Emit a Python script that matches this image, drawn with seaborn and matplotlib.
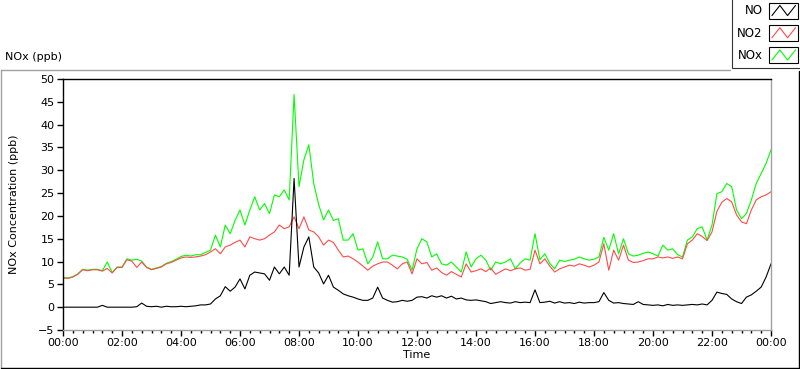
import numpy as np
import pandas as pd
import matplotlib
matplotlib.use("Agg")
import matplotlib.pyplot as plt
import matplotlib.dates as mdates
from matplotlib.legend_handler import HandlerBase
from matplotlib.lines import Line2D
from matplotlib.patches import Rectangle
import seaborn as sns

# readings every 10 minutes, 00:00 -> 24:00 (ppb)
no_ppb = [
    0.0, 0.0, 0.0, 0.0, 0.0, 0.0,
    0.0, 0.0, 0.4, 0.0, 0.0, 0.0,
    0.0, 0.0, 0.0, 0.1, 0.9, 0.2,
    0.1, 0.2, 0.0, 0.2, 0.1, 0.1,
    0.2, 0.1, 0.2, 0.3, 0.5, 0.5,
    0.7, 1.8, 2.5, 4.5, 3.5, 4.4,
    6.2, 4.0, 7.0, 7.7, 7.5, 7.3,
    5.9, 8.8, 7.3, 8.8, 7.0, 28.2,
    8.8, 13.2, 15.4, 8.8, 7.5, 5.1,
    7.0, 4.4, 3.7, 2.9, 2.5, 2.2,
    1.8, 1.5, 1.5, 2.0, 4.4, 2.0,
    1.5, 1.1, 1.2, 1.5, 1.3, 1.5,
    2.2, 2.3, 2.0, 2.5, 2.2, 2.5,
    2.0, 2.4, 1.8, 2.0, 1.6, 1.5,
    1.6, 1.4, 1.2, 0.8, 1.0, 1.2,
    1.0, 0.9, 1.2, 1.0, 1.1, 1.0,
    3.8, 1.0, 1.1, 1.3, 0.9, 1.2,
    0.9, 1.0, 0.8, 1.1, 0.9, 1.0,
    1.0, 1.2, 3.2, 1.5, 0.9, 1.0,
    0.8, 0.7, 0.6, 1.2, 0.6, 0.5,
    0.4, 0.5, 0.3, 0.6, 0.4, 0.5,
    0.4, 0.5, 0.6, 0.5, 0.7, 0.5,
    1.5, 3.3, 3.0, 2.8, 1.8, 1.2,
    0.8, 2.2, 2.7, 3.5, 4.4, 6.6,
    9.5,
]
no2_ppb = [
    6.4, 6.3, 6.6, 7.2, 8.2, 8.0,
    8.2, 8.2, 7.9, 8.5, 7.5, 8.7,
    8.7, 10.4, 10.1, 8.7, 9.9, 8.7,
    8.2, 8.5, 8.8, 9.5, 9.8, 10.3,
    10.8, 11.0, 10.9, 11.0, 11.2, 11.5,
    12.1, 12.8, 11.7, 13.2, 13.6, 14.2,
    14.7, 13.2, 15.4, 15.0, 14.7, 15.0,
    15.8, 16.5, 18.0, 17.2, 17.6, 19.8,
    17.2, 19.8, 16.9, 16.5, 15.4, 13.6,
    14.7, 14.2, 12.5, 11.0, 11.2, 10.6,
    9.9, 9.0, 8.1, 9.0, 9.5, 9.9,
    9.9, 9.2, 8.4, 9.5, 9.9, 7.3,
    10.6, 9.5, 9.8, 8.1, 8.6, 7.6,
    7.0, 7.8, 7.2, 6.6, 9.5, 7.7,
    8.0, 8.4, 7.8, 8.6, 7.2, 7.8,
    8.4, 8.0, 8.4, 8.6, 8.1, 8.3,
    12.5, 9.5, 10.6, 9.0, 7.7, 8.4,
    8.8, 9.2, 9.0, 9.5, 9.2, 8.8,
    9.2, 9.9, 13.9, 8.1, 12.5, 10.3,
    13.6, 10.3, 9.8, 9.9, 10.2, 10.6,
    10.6, 11.0, 10.8, 11.0, 10.7, 11.0,
    10.6, 13.9, 14.7, 16.1, 15.5, 14.6,
    16.5, 21.0, 23.0, 23.8, 23.1, 20.2,
    18.7, 18.3, 21.3, 23.5, 24.2, 24.6,
    25.3,
]
nox_ppb = [
    6.5, 6.4, 6.7, 7.3, 8.3, 8.1,
    8.3, 8.3, 8.0, 9.9, 7.6, 8.8,
    8.8, 10.6, 10.3, 10.5, 10.1, 8.8,
    8.3, 8.6, 8.9, 9.6, 10.0, 10.5,
    11.1, 11.4, 11.2, 11.5, 11.5, 12.0,
    12.5, 15.8, 13.2, 18.0, 16.1, 19.0,
    21.3, 18.0, 21.3, 24.2, 21.3, 22.7,
    20.5, 24.6, 24.2, 25.7, 23.5, 46.6,
    26.4, 32.3, 35.6, 27.1, 22.5, 19.1,
    21.3, 19.0, 19.4, 14.7, 14.7, 16.1,
    12.5, 12.8, 9.5, 11.0, 14.3, 10.6,
    10.6, 11.4, 11.2, 11.0, 10.5, 8.1,
    12.8, 15.0, 14.3, 11.0, 11.7, 9.5,
    9.2, 9.9, 8.8, 7.7, 12.1, 8.8,
    10.6, 11.4, 10.3, 8.1, 9.9, 9.5,
    9.9, 10.6, 8.4, 9.7, 10.6, 10.3,
    16.1, 10.4, 11.7, 9.6, 8.4, 10.3,
    10.0, 10.3, 10.5, 11.0, 10.6, 10.3,
    10.5, 11.0, 15.3, 12.5, 16.1, 11.7,
    15.0, 11.7, 11.2, 11.4, 11.8, 12.1,
    11.7, 11.2, 13.6, 12.5, 12.8, 11.5,
    11.0, 14.7, 15.4, 17.2, 17.6, 14.7,
    18.0, 24.9, 25.3, 27.1, 26.4, 21.3,
    19.4, 20.5, 23.5, 27.1, 29.3, 31.5,
    34.5,
]
series_names = ["NO", "NO2", "NOx"]
colors = {"NO": "#000000", "NO2": "#ff4a4a", "NOx": "#00ff00"}

times = pd.date_range("2024-01-01 00:00", periods=len(no_ppb), freq="10min")
df = pd.DataFrame({"Time": times, "NO": no_ppb, "NO2": no2_ppb, "NOx": nox_ppb})
long_df = df.melt(id_vars="Time", var_name="Series", value_name="ppb")

sns.set_theme(style="white")
plt.rcParams["font.family"] = ["DejaVu Sans"]
plt.rcParams["text.color"] = "black"
plt.rcParams["axes.labelcolor"] = "black"

W, H = 800, 369
fig = plt.figure(figsize=(W / 100, H / 100), dpi=100)
fig.patch.set_facecolor("white")
ax = fig.add_axes([63 / W, 1 - 330 / H, (771 - 63) / W, (330 - 79) / H])

# green first, red over it, black on top
for name in ["NOx", "NO2", "NO"]:
    sns.lineplot(data=long_df[long_df["Series"] == name], x="Time", y="ppb",
                 color=colors[name], lw=0.8, errorbar=None, legend=False, ax=ax)

ax.set_xlim(times[0], times[-1])
ax.set_ylim(-5, 50)
ax.set_yticks(range(-5, 51, 5))
ax.xaxis.set_major_locator(mdates.HourLocator(byhour=range(0, 24, 2)))
ax.xaxis.set_minor_locator(mdates.MinuteLocator(byminute=[0, 20, 40]))
ax.xaxis.set_major_formatter(mdates.DateFormatter("%H:%M"))

ax.tick_params(axis="both", which="major", direction="out", length=4.5, width=1,
               color="black", labelsize=8, pad=1.5, labelcolor="black")
ax.tick_params(axis="x", which="minor", direction="out", length=2.5, width=1,
               color="black")
ax.tick_params(axis="x", which="both", bottom=True)
ax.tick_params(axis="y", left=True)

for side in ["top", "left"]:
    ax.spines[side].set_color("black")
    ax.spines[side].set_linewidth(1)
for side in ["right", "bottom"]:
    ax.spines[side].set_color("#a0a0a0")
    ax.spines[side].set_linewidth(1)

ax.set_xlabel("Time", fontsize=8, labelpad=1)
ax.set_ylabel("NOx Concentration (ppb)", fontsize=8)
ax.yaxis.set_label_coords(-0.062, 0.5)

fig.text(5 / W, 1 - 57 / H, "NOx (ppb)", fontsize=8, ha="left", va="center")

# outer panel border
def fline(xs, ys, color):
    fig.add_artist(Line2D([x / W for x in xs], [1 - y / H for y in ys],
                          transform=fig.transFigure, color=color, lw=1))

fline([0.5, 730], [69.5, 69.5], "#a0a0a0")
fline([0.5, 0.5], [69.5, 367.5], "#a0a0a0")
fline([0.5, 798.5], [367.5, 367.5], "black")
fline([798.5, 798.5], [71, 367.5], "black")


class BoxZigzag(HandlerBase):
    def create_artists(self, legend, orig_handle, xdescent, ydescent,
                       width, height, fontsize, trans):
        x0, y0 = -xdescent, -ydescent
        box = Rectangle((x0, y0), width, height, fill=False,
                        edgecolor="black", lw=0.8, transform=trans)
        zx = x0 + width * np.array([0.1, 0.37, 0.63, 0.9])
        zy = y0 + height * np.array([0.2, 0.82, 0.2, 0.82])
        zig = Line2D(zx, zy, color=orig_handle.get_color(), lw=0.8,
                     transform=trans)
        return [box, zig]


handles = [Line2D([], [], color=colors[n]) for n in series_names]
leg = fig.legend(handles, series_names, loc="upper right",
                 bbox_to_anchor=(1.004, 1.006), bbox_transform=fig.transFigure,
                 frameon=True, fancybox=False, edgecolor="black",
                 borderaxespad=0, handler_map={Line2D: BoxZigzag()},
                 markerfirst=False, fontsize=8.5, handlelength=2.5,
                 handleheight=1.75, labelspacing=0.5, handletextpad=0.55,
                 borderpad=0.4)
leg.get_frame().set_linewidth(0.8)

fig.savefig("out.png", dpi=100, facecolor="white")
